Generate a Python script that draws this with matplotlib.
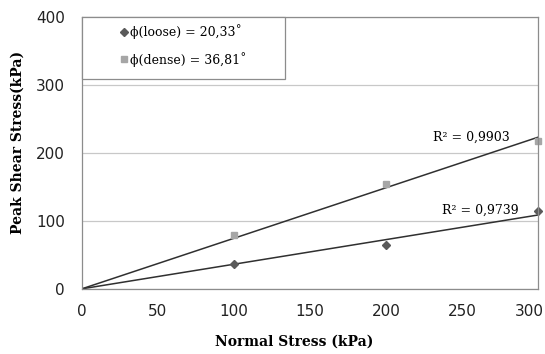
import numpy as np
import matplotlib.pyplot as plt
from matplotlib.patches import Rectangle
from matplotlib.transforms import ScaledTranslation

# normal stress (kPa) and peak shear stress (kPa)
normal = [100, 200, 300]
loose = [37, 64, 114]
dense = [79, 154, 218]
r2_loose = "R² = 0,9739"
r2_dense = "R² = 0,9903"
lab_loose = "ϕ(loose) = 20,33˚"
lab_dense = "ϕ(dense) = 36,81˚"

x = np.array(normal, dtype=float)

def slope0(y):
    y = np.array(y, dtype=float)
    return (x * y).sum() / (x * x).sum()

fig = plt.figure(figsize=(5.45, 3.54), dpi=100)
ax = fig.add_axes([0.150, 0.184, 0.837, 0.768])

ax.set_xlim(0, 300)
ax.set_ylim(0, 400)
ax.set_xticks(range(0, 301, 50))
ax.set_yticks(range(0, 401, 100))
ax.yaxis.grid(True, color='#c8c8c8', lw=0.9)
ax.set_axisbelow(True)
for s in ax.spines.values():
    s.set_color('#8c8c8c')
    s.set_linewidth(0.9)
ax.tick_params(length=0, labelsize=11, colors='#222222')
ax.tick_params(axis='x', pad=11)
ax.tick_params(axis='y', pad=12)

# last x label sits at the figure edge, pull it in like the original
last = ax.get_xticklabels()[-1]
last.set_ha('right')
last.set_transform(last.get_transform() + ScaledTranslation(0.055, 0, fig.dpi_scale_trans))

xx = np.array([0, 300])
ax.plot(xx, slope0(loose) * xx, color='#303030', lw=1.1)
ax.plot(xx, slope0(dense) * xx, color='#303030', lw=1.1)
ax.plot(normal, loose, 'D', color='#5a5a5a', ms=4.5, ls='none', label=lab_loose, clip_on=False)
ax.plot(normal, dense, 's', color='#a6a6a6', ms=5, ls='none', label=lab_dense, clip_on=False)

ax.text(262, 116, r2_loose, family='DejaVu Serif', fontsize=9, ha='center', va='center')
ax.text(256, 223, r2_dense, family='DejaVu Serif', fontsize=9, ha='center', va='center')

# legend box
ax.add_patch(Rectangle((0, 0.772), 0.445, 0.228, transform=ax.transAxes, fill=True,
                       facecolor='white', edgecolor='#8c8c8c', lw=0.9, zorder=4, clip_on=False))
leg = ax.legend(loc='upper left', bbox_to_anchor=(0.065, 1.0), frameon=False,
                borderaxespad=0, prop={'family': 'DejaVu Serif', 'size': 9},
                handletextpad=0.05, handlelength=0.8, borderpad=0.6, labelspacing=1.0,
                markerscale=0.8)
leg.set_zorder(5)

ax.set_xlabel('Normal Stress (kPa)', family='DejaVu Serif', fontweight='bold', fontsize=10)
ax.set_ylabel('Peak Shear Stress(kPa)', family='DejaVu Serif', fontweight='bold', fontsize=10)
ax.xaxis.set_label_coords(0.465, -0.17)
ax.yaxis.set_label_coords(-0.125, 0.54)

fig.savefig('out.png', dpi=100)
